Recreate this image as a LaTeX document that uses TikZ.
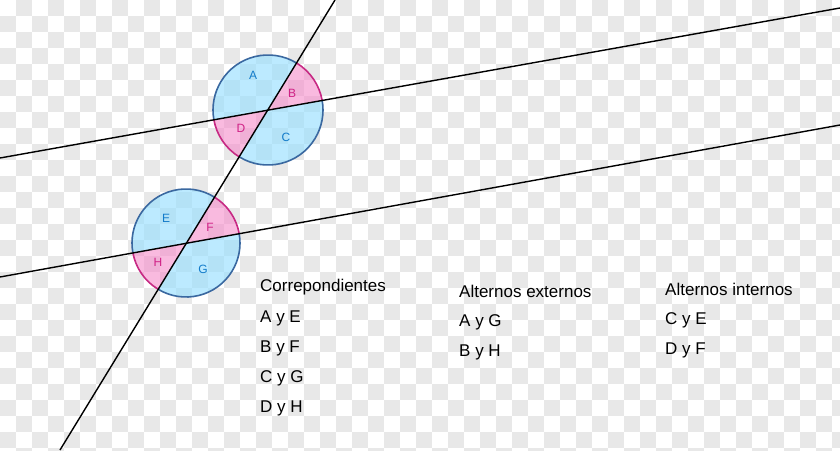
\documentclass[tikz,border=0pt]{standalone}
\usepackage{fontspec}
\setmainfont{Liberation Sans}
\begin{document}
\begin{tikzpicture}[x=1pt,y=-1pt,
  bl/.style={fill=blue!30!cyan!40!white,fill opacity=0.65,draw=none},
  pk/.style={fill=magenta!45!white,fill opacity=0.6,draw=none},
  blo/.style={draw=cyan!50!blue!75!black,line width=1.6pt},
  pko/.style={draw=magenta!80!black,line width=1.6pt},
  ln/.style={line width=1.4pt,black},
  lbl/.style={font=\fontsize{12}{12}\selectfont,inner sep=0pt},
  txt/.style={font=\fontsize{17}{20}\selectfont,anchor=west,inner sep=0pt}]
\useasboundingbox (0,0) rectangle (840,450);
\fill[white] (0,0) rectangle (840,450);
\foreach \i in {0,...,52}{\foreach \j in {0,...,28}{
  \pgfmathtruncatemacro\p{mod(\i+\j,2)}
  \ifnum\p=1 \fill[black!9] (\i*16,\j*16) rectangle ++(16,16);\fi}}
\foreach \cx/\cy/\r/\n in {268/110/55/1,186/243/54/2}{
  \coordinate (c\n) at (\cx,\cy);
  \fill[pk] (c\n) -- ++(-10.1:\r) arc[start angle=-10.1,end angle=-58.6,radius=\r] -- cycle;
  \fill[pk] (c\n) -- ++(-190.1:\r) arc[start angle=-190.1,end angle=-238.6,radius=\r] -- cycle;
  \fill[bl] (c\n) -- ++(-58.6:\r) arc[start angle=-58.6,end angle=-190.1,radius=\r] -- cycle;
  \fill[bl] (c\n) -- ++(-238.6:\r) arc[start angle=-238.6,end angle=-370.1,radius=\r] -- cycle;
  \draw[pko] (c\n) ++(-10.1:\r) arc[start angle=-10.1,end angle=-58.6,radius=\r];
  \draw[pko] (c\n) ++(-190.1:\r) arc[start angle=-190.1,end angle=-238.6,radius=\r];
  \draw[blo] (c\n) ++(-58.6:\r) arc[start angle=-58.6,end angle=-190.1,radius=\r];
  \draw[blo] (c\n) ++(-238.6:\r) arc[start angle=-238.6,end angle=-370.1,radius=\r];
}
\coordinate (t1) at (335,0); \coordinate (t2) at (60,450);
\coordinate (u1) at (0,158); \coordinate (u2) at (840,8);
\coordinate (w1) at (0,277); \coordinate (w2) at (840,125);
\draw[ln] (t1) -- (t2);
\draw[ln] (u1) -- (u2);
\draw[ln] (w1) -- (w2);
\node[lbl,text=cyan!60!blue] (A) at (253,75) {A};
\node[lbl,text=magenta!85!black] (B) at (292,93) {B};
\node[lbl,text=cyan!60!blue] (C) at (286,137) {C};
\node[lbl,text=magenta!85!black] (D) at (241,128) {D};
\node[lbl,text=cyan!60!blue] (E) at (166,218) {E};
\node[lbl,text=magenta!85!black] (F) at (210,227) {F};
\node[lbl,text=cyan!60!blue] (G) at (203,269) {G};
\node[lbl,text=magenta!85!black] (H) at (158,262) {H};
\node[txt] (h1) at (260,287) {Correpondientes};
\node[txt] (a1) at (260,318) {A y E};
\node[txt] (a2) at (260,348) {B y F};
\node[txt] (a3) at (260,378) {C y G};
\node[txt] (a4) at (260,408) {D y H};
\node[txt] (h2) at (459,291) {Alternos externos};
\node[txt] (b1) at (459,322) {A y G};
\node[txt] (b2) at (459,352) {B y H};
\node[txt] (h3) at (665,289) {Alternos internos};
\node[txt] (d1) at (665,320) {C y E};
\node[txt] (d2) at (665,350) {D y F};
\end{tikzpicture}
\end{document}
